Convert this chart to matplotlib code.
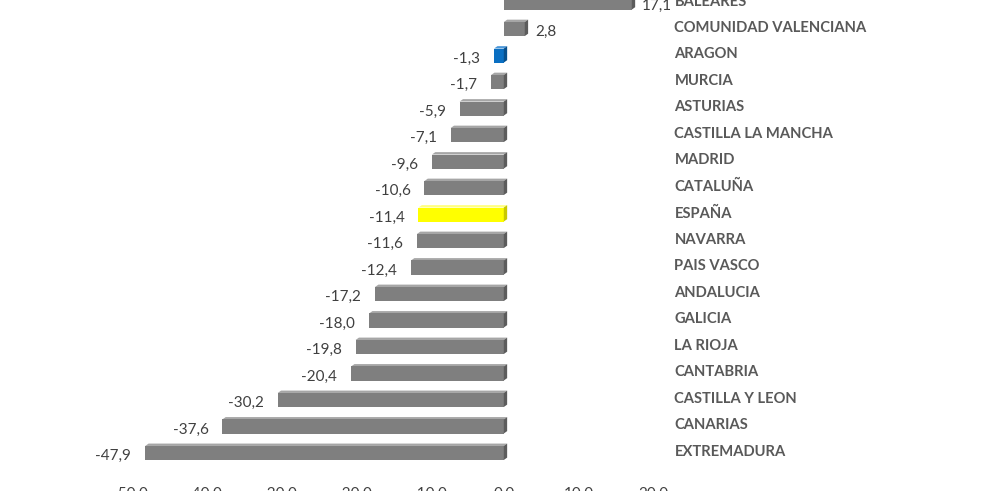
import numpy as np
import matplotlib
matplotlib.use('Agg')
import matplotlib.pyplot as plt
from matplotlib.patches import Polygon

regions = ['BALEARES', 'COMUNIDAD VALENCIANA', 'ARAGON', 'MURCIA', 'ASTURIAS',
           'CASTILLA LA MANCHA', 'MADRID', 'CATALUÑA', 'ESPAÑA', 'NAVARRA',
           'PAIS VASCO', 'ANDALUCIA', 'GALICIA', 'LA RIOJA', 'CANTABRIA',
           'CASTILLA Y LEON', 'CANARIAS', 'EXTREMADURA']
values = [17.1, 2.8, -1.3, -1.7, -5.9, -7.1, -9.6, -10.6, -11.4, -11.6,
          -12.4, -17.2, -18.0, -19.8, -20.4, -30.2, -37.6, -47.9]
highlight = {'ARAGON': ('#0a6fc2', '#064f8c', '#4a96d8'),
             'ESPAÑA': ('#ffff00', '#c8c800', '#ffff80')}
grey = ('#7f7f7f', '#5c5c5c', '#a6a6a6')
ticks = [-50, -40, -30, -20, -10, 0, 10, 20]

plt.rcParams['font.family'] = ['Lato', 'DejaVu Sans']

fig = plt.figure(figsize=(9.9, 4.91), dpi=100)
# axes placed in pixels: x=0 at 505 px, ~7.5 px per unit; rows 26.5 px apart
ax = fig.add_axes([129.5 / 990, 11 / 491, 524 / 990, 1.0015])
ax.set_xlim(-50, 20)
ax.set_ylim(18.06, -0.5)

pos = np.arange(len(regions))
h = 0.53
colors = [highlight.get(r, grey) for r in regions]
ax.barh(pos + 0.04, values, height=h, color=[c[0] for c in colors],
        edgecolor='none', zorder=2)

dx, dy = 0.45, 0.09
for i, (v, c) in enumerate(zip(values, colors)):
    y = i + 0.04
    xl, xr = min(v, 0), max(v, 0)
    top, bot = y - h / 2, y + h / 2
    ax.add_patch(Polygon([(xl, top), (xr, top), (xr + dx, top - dy),
                          (xl + dx, top - dy)], closed=True,
                         fc=c[2], ec='none', zorder=1))
    ax.add_patch(Polygon([(xr, top), (xr, bot), (xr + dx, bot - dy),
                          (xr + dx, top - dy)], closed=True,
                         fc=c[1], ec='none', zorder=3))
    label = ('%.1f' % v).replace('.', ',')
    if v < 0:
        ax.annotate(label, (v, i + 0.15), xytext=(-10, 0),
                    textcoords='offset points', ha='right', va='center',
                    fontsize=11, color='#404040')
    else:
        ax.annotate(label, (v + dx, i + 0.15), xytext=(5, 0),
                    textcoords='offset points', ha='left', va='center',
                    fontsize=11, color='#404040')
    ax.text(22.8, i, regions[i], ha='left', va='center', fontsize=10.6,
            fontweight='bold', color='#595959', clip_on=False)

ax.set_xticks(ticks)
ax.set_xticklabels([('%.1f' % t).replace('.', ',') for t in ticks],
                   fontsize=11, color='#404040')
ax.tick_params(axis='x', length=0, pad=5)
ax.set_yticks([])
for s in ax.spines.values():
    s.set_visible(False)

fig.savefig('out.png', dpi=100)
